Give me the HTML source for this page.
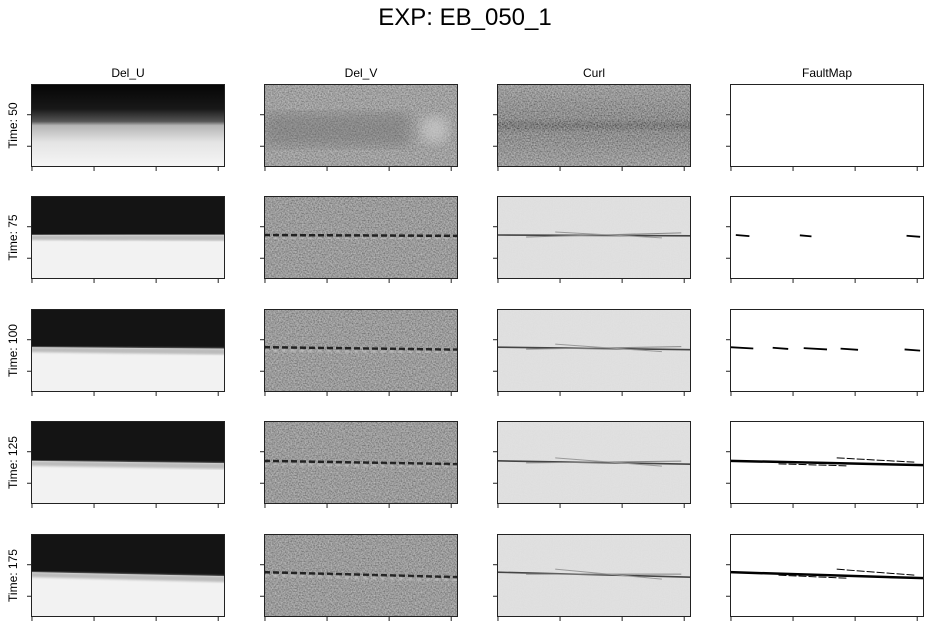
<!DOCTYPE html>
<html><head><meta charset="utf-8"><style>
body{margin:0;background:#fff;width:931px;height:628px;overflow:hidden;font-family:"Liberation Sans",sans-serif}
</style></head><body>
<svg id="fig" width="931" height="628" viewBox="0 0 931 628">
<defs>
<filter id="noise" x="0" y="0" width="100%" height="100%">
<feTurbulence type="fractalNoise" baseFrequency="0.9" numOctaves="2" seed="3" result="t"/>
<feColorMatrix in="t" type="matrix" values="0.33 0.33 0.33 0 0  0.33 0.33 0.33 0 0  0.33 0.33 0.33 0 0  0 0 0 0 0.1" result="g"/>
<feComposite in="g" in2="SourceGraphic" operator="atop"/>
</filter>
<filter id="noiseS" x="0" y="0" width="100%" height="100%">
<feTurbulence type="fractalNoise" baseFrequency="0.7" numOctaves="2" seed="7" result="t"/>
<feColorMatrix in="t" type="matrix" values="1.5 0 0 0 -0.25  1.5 0 0 0 -0.25  1.5 0 0 0 -0.25  0 0 0 0 0.35" result="g"/>
<feComposite in="g" in2="SourceGraphic" operator="atop"/>
</filter>
<filter id="blur1"><feGaussianBlur stdDeviation="1"/></filter>
<filter id="blur3"><feGaussianBlur stdDeviation="6"/></filter>
<linearGradient id="du0" x1="0" y1="0" x2="0" y2="1">
<stop offset="0" stop-color="#050505"/><stop offset="0.3" stop-color="#181818"/><stop offset="0.45" stop-color="#555"/><stop offset="0.5" stop-color="#b5b5b5"/><stop offset="0.7" stop-color="#e4e4e4"/><stop offset="1" stop-color="#f6f6f6"/>
</linearGradient>
<linearGradient id="cu0" x1="0" y1="0" x2="0" y2="1">
<stop offset="0" stop-color="#8a8a8a"/><stop offset="0.42" stop-color="#6a6a6a"/><stop offset="0.5" stop-color="#3a3a3a"/><stop offset="0.58" stop-color="#6a6a6a"/><stop offset="1" stop-color="#8a8a8a"/>
</linearGradient>
</defs>
<text x="465" y="25" text-anchor="middle" font-size="24" fill="#000">EXP: EB_050_1</text>
</svg>
<script>
const times=["50","75","100","125","175"];
const cols=["Del_U","Del_V","Curl","FaultMap"];
const faultLeft=[0.5,0.47,0.46,0.48,0.46];
const faultRight=[0.5,0.48,0.49,0.52,0.52];
const faultSegs=[[],[[0.03,0.1],[0.36,0.42],[0.91,0.98]],[[0.0,0.12],[0.22,0.3],[0.38,0.5],[0.57,0.66],[0.9,0.98]],[[0,1]],[[0,1]]];
const colX=[31,264,497,730], rowY=[84,196,309,421,534], W=194, H=83;
const NS="http://www.w3.org/2000/svg";
const svg=document.getElementById('fig');
function mk(t,a,p){const e=document.createElementNS(NS,t);for(const k in a)e.setAttribute(k,a[k]);(p||svg).appendChild(e);return e;}
const xs=f=>f*W, ys=f=>f*H;
cols.forEach((c,ci)=>{
  const t=mk('text',{x:colX[ci]+W/2,y:77,'text-anchor':'middle','font-size':12,fill:'#000'});
  t.textContent=c;
  
  
});
times.forEach((tm,ri)=>{
  const y0=rowY[ri];
  const lab=mk('text',{x:0,y:0,'text-anchor':'middle','font-size':12,fill:'#000',transform:`translate(17,${y0+H/2}) rotate(-90)`});
  lab.textContent='Time: '+tm;
  
  
  cols.forEach((c,ci)=>{
    const x0=colX[ci];
    const g=mk('g',{transform:`translate(${x0},${y0})`});
    
    
    const cp=mk('clipPath',{id:`cp${ri}${ci}`},g); mk('rect',{width:W,height:H},cp);
    const inner=mk('g',{'clip-path':`url(#cp${ri}${ci})`},g);
    const fl=ys(faultLeft[ri]), fr=ys(faultRight[ri]);
    if(ci===0){
      if(ri===0){mk('rect',{width:W,height:H,fill:'url(#du0)'},inner);}
      else{
        mk('rect',{width:W,height:H,fill:'#f2f2f2'},inner);
        mk('path',{d:`M0 0H${W}V${fr-1}L0 ${fl}Z`,fill:'#141414'},inner);
        mk('path',{d:`M0 ${fl}L${W} ${fr-1}V${fr+5}L0 ${fl+5}Z`,fill:'#bbb',filter:'url(#blur1)'},inner);
      }
    } else if(ci===1){
      mk('rect',{width:W,height:H,fill:ri===0?'#8e8e8e':'#858585',filter:'url(#noiseS)'},inner);
      if(ri===0){
        mk('ellipse',{cx:xs(0.88),cy:ys(0.55),rx:14,ry:14,fill:'#ccc',opacity:0.7,filter:'url(#blur3)'},inner);
        mk('rect',{x:0,y:ys(0.35),width:W*0.75,height:ys(0.4),fill:'#555',opacity:0.3,filter:'url(#blur3)'},inner);
      } else {
        mk('path',{d:`M0 ${fl}L${W} ${fr}`,stroke:'#222','stroke-width':2.5,fill:'none','stroke-dasharray':'6 3'},inner);
        mk('path',{d:`M0 ${fl+3}L${W} ${fr+3}`,stroke:'#ccc','stroke-width':2,fill:'none','stroke-dasharray':'4 5',filter:'url(#blur1)'},inner);
      }
    } else if(ci===2){
      if(ri===0){mk('rect',{width:W,height:H,fill:'url(#cu0)',filter:'url(#noiseS)'},inner);}
      else{
        mk('rect',{width:W,height:H,fill:'#e3e3e3',filter:'url(#noise)'},inner);
        mk('path',{d:`M0 ${fl}L${W} ${fr}`,stroke:'#444','stroke-width':1.6,fill:'none'},inner);
        mk('path',{d:`M${xs(0.15)} ${fl+2}L${xs(0.95)} ${fr-3}`,stroke:'#888','stroke-width':1,fill:'none'},inner);
        mk('path',{d:`M${xs(0.3)} ${fl-3}L${xs(0.85)} ${fr+2}`,stroke:'#999','stroke-width':1,fill:'none'},inner);
      }
    } else {
      mk('rect',{width:W,height:H,fill:'#fff'},inner);
      faultSegs[ri].forEach(s=>{
        const ya=fl+(fr-fl)*s[0], yb=fl+(fr-fl)*s[1];
        const p=mk('path',{d:`M${xs(s[0])} ${ya}L${xs(s[1])} ${yb+1}`,stroke:'#000','stroke-width':ri>=3?2.5:1.8,fill:'none'},inner);
        
        
        if(ri>=3){mk('path',{d:`M${xs(0.25)} ${fl+3}L${xs(0.6)} ${fl+(fr-fl)*0.6+3}M${xs(0.55)} ${fl-3}L${xs(0.95)} ${fr-2}`,stroke:'#000','stroke-width':1,fill:'none','stroke-dasharray':'8 2'},inner);}
      });
    }
    mk('rect',{x:0.5,y:0.5,width:W-1,height:H-1,fill:'none',stroke:'#222','stroke-width':1},g);
    [0.37,0.75].forEach(f=>mk('line',{x1:-4,x2:0,y1:ys(f),y2:ys(f),stroke:'#222'},g));
    [0.005,0.325,0.645,0.965].forEach(f=>mk('line',{x1:xs(f),x2:xs(f),y1:H,y2:H+4,stroke:'#222'},g));
  });
});
</script>
</body></html>
